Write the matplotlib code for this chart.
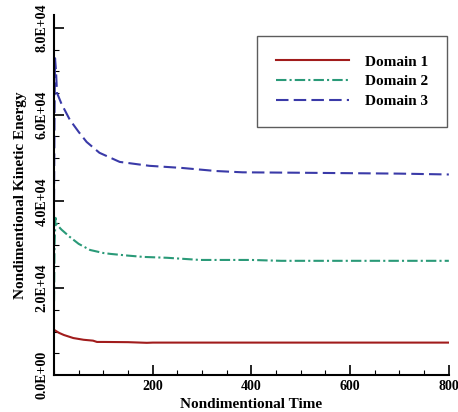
import matplotlib
matplotlib.use('Agg')
import matplotlib.pyplot as plt
from matplotlib.ticker import MultipleLocator, FuncFormatter

# time (nondimensional) and kinetic energy for each domain
t1 = [0, 10, 20, 39, 60, 79, 87, 100, 150, 188, 200, 300, 400, 500, 600, 700, 800]
e1 = [10400, 9700, 9200, 8500, 8100, 7900, 7600, 7600, 7550, 7400, 7450, 7450, 7450, 7450, 7450, 7450, 7450]

t2 = [0, 1, 3, 6, 15, 32, 50, 73, 100, 114, 150, 181, 229, 296, 400, 460, 600, 800]
e2 = [17000, 30000, 36200, 34600, 33500, 31800, 30200, 28800, 28100, 27900, 27500, 27200, 27000, 26500, 26500, 26300, 26300, 26300]

t3 = [0, 1, 2, 4, 6, 15, 32, 50, 66, 92, 133, 193, 260, 328, 382, 500, 600, 700, 800]
e3 = [40000, 60000, 73000, 70000, 65000, 62500, 58800, 56000, 53700, 51200, 49100, 48200, 47700,
      47000, 46700, 46600, 46500, 46400, 46200]

labels = ['Domain 1', 'Domain 2', 'Domain 3']
colors = ['#a11c1c', '#2a9a78', '#3a3aa8']

plt.rcParams['font.family'] = ['Liberation Serif', 'DejaVu Serif']
plt.rcParams['font.weight'] = 'bold'

fig = plt.figure(figsize=(4.58, 4.12), dpi=100)
ax = fig.add_axes([0.118, 0.09, 0.862, 0.874])

ax.plot(t1, e1, '-', color=colors[0], lw=1.5, label=labels[0])
ax.plot(t2, e2, color=colors[1], lw=1.5, linestyle=(0, (5, 1.5, 1, 1.5)), label=labels[1])
ax.plot(t3, e3, color=colors[2], lw=1.5, linestyle=(0, (6, 2.5)), label=labels[2])

ax.set_xlim(0, 800)
ax.set_ylim(0, 83000)
ax.set_xticks([200, 400, 600, 800])
ax.xaxis.set_minor_locator(MultipleLocator(50))
ax.yaxis.set_major_locator(MultipleLocator(20000))
ax.yaxis.set_minor_locator(MultipleLocator(5000))
ax.yaxis.set_major_formatter(FuncFormatter(lambda v, p: '{:.1E}'.format(v)))

for s in ['top', 'right']:
    ax.spines[s].set_visible(False)
ax.spines['left'].set_linewidth(1.5)
ax.spines['bottom'].set_linewidth(1.5)
ax.tick_params(which='major', direction='in', length=7, width=1.2, labelsize=10, pad=4)
ax.tick_params(which='minor', direction='in', length=3.5, width=0.8)
for lab in ax.get_yticklabels():
    lab.set_rotation(90)
    lab.set_va('center')
    lab.set_fontweight('bold')
for lab in ax.get_xticklabels():
    lab.set_fontweight('bold')

ax.set_xlabel('Nondimentional Time', fontsize=11, fontweight='bold', labelpad=3)
ax.set_ylabel('Nondimentional Kinetic Energy', fontsize=11, fontweight='bold', labelpad=6)

leg = ax.legend(loc='upper right', bbox_to_anchor=(0.995, 0.942), fontsize=11, frameon=True,
                fancybox=False, handlelength=4.8, handletextpad=1.0, labelspacing=0.4,
                borderpad=1.25, borderaxespad=0)
leg.get_frame().set_edgecolor('#333333')
leg.get_frame().set_linewidth(1.0)

plt.savefig('out.png', dpi=100)
